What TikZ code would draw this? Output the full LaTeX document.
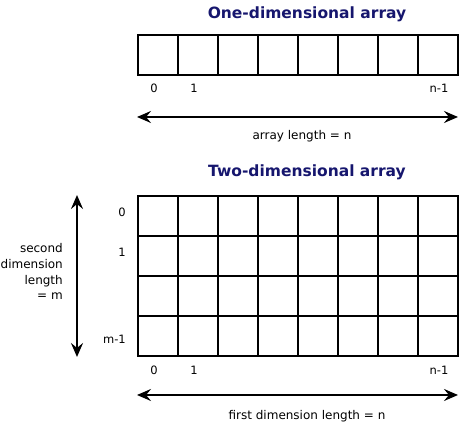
\documentclass[tikz,border=0pt]{standalone}
\usepackage{fontspec}
\setmainfont{DejaVu Sans}
\usetikzlibrary{arrows.meta}
\definecolor{titleblue}{RGB}{22,22,110}
\tikzset{
  cell/.style={draw=black, line width=2pt, minimum width=40pt, minimum height=40pt, inner sep=0pt, outer sep=0pt},
  titletext/.style={anchor=base, inner sep=0pt, text=titleblue, font=\fontsize{15.5}{18}\selectfont\bfseries},
  idx/.style={anchor=base, inner sep=0pt, font=\fontsize{11.5}{13}\selectfont},
  lbl/.style={anchor=base, inner sep=0pt, font=\fontsize{12}{14}\selectfont},
  dimarrow/.style={line width=2.2pt, {Stealth[length=14pt,width=12pt,inset=5pt]}-{Stealth[length=14pt,width=12pt,inset=5pt]}}
}
\begin{document}
\begin{tikzpicture}[x=1pt,y=-1pt]
\useasboundingbox[fill=white] (0,0) rectangle (459,427);
% titles
\node[titletext] (t1) at (307,19) {One-dimensional array};
\node[titletext] (t2) at (307,177) {Two-dimensional array};
% 1D array
\foreach \i in {0,...,7} {
  \node[cell] (a\i) at ({157.5+40*\i},55.5) {};
}
\node[idx] (a0l) at (154,93) {0};
\node[idx] (a1l) at (194,93) {1};
\node[idx] (anl) at (439,93) {n-1};
\coordinate (al) at (137,117);
\coordinate (ar) at (458,117);
\draw[dimarrow] (al) -- (ar);
\node[lbl] (alen) at (302,140) {array length = n};
% 2D array
\foreach \r in {0,...,3} {
  \foreach \c in {0,...,7} {
    \node[cell] (b\r\c) at ({157.5+40*\c},{216+40*\r}) {};
  }
}
\node[idx, anchor=base east] (r0) at (126,217) {0};
\node[idx, anchor=base east] (r1) at (126,257) {1};
\node[idx, anchor=base east] (rm) at (126,344) {m-1};
\node[idx] (c0) at (154,375) {0};
\node[idx] (c1) at (194,375) {1};
\node[idx] (cn) at (439,375) {n-1};
\coordinate (bl) at (137,395);
\coordinate (br) at (458,395);
\draw[dimarrow] (bl) -- (br);
\node[lbl] (blen) at (307,420) {first dimension length = n};
\coordinate (vt) at (77,195);
\coordinate (vb) at (77,357);
\draw[dimarrow] (vt) -- (vb);
\node[lbl, anchor=base east, align=right, font=\fontsize{12}{15.7}\selectfont] (mlen) at (63,300) {second\\dimension\\length\\= m};
\end{tikzpicture}
\end{document}
